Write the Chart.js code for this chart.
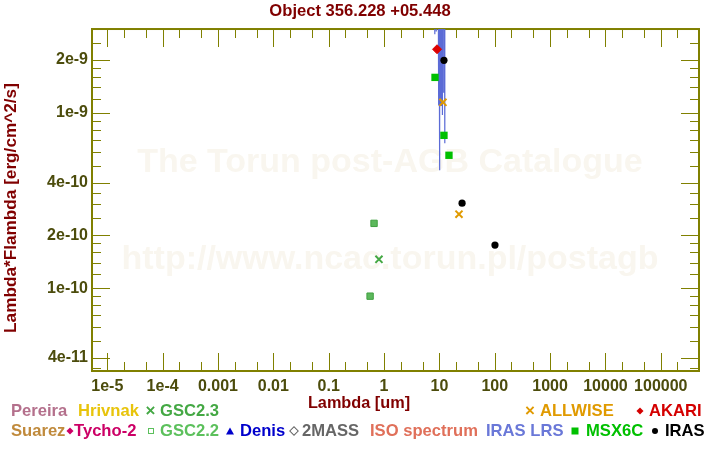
<!DOCTYPE html>
<html lang="en">
  <head>
    <meta charset="UTF-8" />
    <title>Object 356.228 +05.448</title>
    <style>
      body {
        margin: 0;
        background: #fff;
        font-family: "Liberation Sans", Arial, sans-serif;
      }
      #wrap {
        position: relative;
        width: 720px;
        height: 450px;
      }
      .lg {
        position: absolute;
        font-weight: bold;
        font-size: 16.6px;
        line-height: 18px;
        white-space: nowrap;
      }
      .mk {
        position: absolute;
        transform: translate(-50%, -50%);
      }
    </style>
    <script src="https://cdn.jsdelivr.net/npm/chart.js"></script>
  </head>
  <body>
    <div id="wrap">
      <canvas id="sed"></canvas>
      <div id="legend"></div>
    </div>

    <script>
      // photometry: wavelength [um], lambda*F_lambda [erg/cm^2/s]
      const akariX = [9.07];
      const akariY = [2.3e-9];
      const irasX = [12.1, 25.7, 101];
      const irasY = [1.99e-9, 3.05e-10, 1.76e-10];
      const msxX = [8.34, 12.1, 14.9];
      const msxY = [1.59e-9, 7.43e-10, 5.72e-10];
      const allwiseX = [11.6, 22.6];
      const allwiseY = [1.146e-9, 2.64e-10];
      const gsc22X = [0.66, 0.56];
      const gsc22Y = [2.34e-10, 9.0e-11];
      const gsc23X = [0.81];
      const gsc23Y = [1.46e-10];

      // IRAS LRS spectrum, most of it runs above the top of the plot
      const lrsX = [8.2, 8.24, 8.3, 8.74, 8.77, 8.8, 9.55, 9.62, 9.7, 9.8, 9.9, 10.0,
        10.08, 10.15, 10.22, 10.32, 10.42, 10.52, 10.62, 10.72, 10.82, 10.92, 11.02,
        11.12, 11.22, 11.3, 11.36, 11.4, 11.96, 11.98, 12.0, 12.48, 12.5, 12.56];
      const lrsY = [4.5e-9, 2.8e-9, 4.5e-9, 4.5e-9, 2.9e-9, 4.5e-9, 5e-9, 1.15e-9, 5e-9,
        1.1e-9, 5e-9, 1.12e-9, 5e-9, 4.7e-10, 5e-9, 1.1e-9, 5e-9, 1.13e-9, 5e-9, 1.1e-9,
        5e-9, 1.12e-9, 5e-9, 1.1e-9, 5e-9, 1.38e-9, 9.7e-10, 5e-9, 5e-9, 2.43e-9,
        1.31e-9, 1.31e-9, 6.7e-10, 5e-9];

      // axis ticks
      const xMajor = [1e-5, 1e-4, 1e-3, 1e-2, 0.1, 1, 10, 100, 1000, 1e4, 1e5];
      const xLabels = ["1e-5", "1e-4", "0.001", "0.01", "0.1", "1", "10", "100",
        "1000", "10000", "100000"];
      const xMinor = [2e-5, 5e-5, 2e-4, 5e-4, 0.002, 0.005, 0.02, 0.05, 0.2, 0.5,
        2, 5, 20, 50, 200, 500, 2000, 5000, 20000, 50000, 200000];
      const yMajor = [4e-11, 1e-10, 2e-10, 4e-10, 1e-9, 2e-9];
      const yLabels = ["4e-11", "1e-10", "2e-10", "4e-10", "1e-9", "2e-9"];
      const yMinor = [3.5e-11, 5e-11, 6e-11, 7e-11, 8e-11, 9e-11, 1.2e-10, 1.4e-10,
        1.6e-10, 1.8e-10, 2.5e-10, 3e-10, 3.5e-10, 5e-10, 6e-10, 7e-10, 8e-10, 9e-10,
        1.2e-9, 1.4e-9, 1.6e-9, 1.8e-9, 2.5e-9];

      const FONT = '"Liberation Sans", Arial, sans-serif';
      Chart.defaults.font.family = FONT;

      const pts = (xs, ys) => xs.map((x, i) => ({ x: x, y: ys[i] }));
      const tickList = (a, b) => a.concat(b).sort((p, q) => p - q).map((v) => ({ value: v }));

      // watermark, frame with inward ticks, axis titles
      const framePlugin = {
        id: "frame",
        beforeDatasetsDraw(chart) {
          const { ctx, chartArea: a } = chart;
          const x = chart.scales.x;
          const y = chart.scales.y;
          ctx.save();
          ctx.fillStyle = "#f9f6ef";
          ctx.font = "bold 34px " + FONT;
          ctx.textAlign = "center";
          ctx.textBaseline = "middle";
          ctx.fillText("The Torun post-AGB Catalogue", 390, 163);
          ctx.fillText("http://www.ncac.torun.pl/postagb", 390, 260);

          ctx.strokeStyle = "#808000";
          ctx.lineWidth = 1;
          ctx.beginPath();
          xMajor.concat(xMinor).forEach((v) => {
            const px = Math.round(x.getPixelForValue(v)) + 0.5;
            if (px < a.left || px > a.right) return;
            const len = xMajor.includes(v) ? 18 : 9;
            ctx.moveTo(px, a.bottom);
            ctx.lineTo(px, a.bottom - len);
            ctx.moveTo(px, a.top);
            ctx.lineTo(px, a.top + len);
          });
          yMajor.concat(yMinor).forEach((v) => {
            const py = Math.round(y.getPixelForValue(v)) + 0.5;
            if (py < a.top || py > a.bottom) return;
            const len = yMajor.includes(v) ? 18 : 9;
            ctx.moveTo(a.left, py);
            ctx.lineTo(a.left + len, py);
            ctx.moveTo(a.right, py);
            ctx.lineTo(a.right - len, py);
          });
          ctx.stroke();
          ctx.lineWidth = 2;
          ctx.strokeRect(a.left, a.top, a.right - a.left, a.bottom - a.top);
          ctx.restore();
        },
        afterDraw(chart) {
          const ctx = chart.ctx;
          ctx.save();
          ctx.fillStyle = "#800000";
          ctx.textAlign = "center";
          ctx.textBaseline = "middle";
          ctx.font = "bold 16.3px " + FONT;
          ctx.fillText("Lambda [um]", 359, 404);
          ctx.font = "bold 17.2px " + FONT;
          ctx.translate(11, 208);
          ctx.rotate(-Math.PI / 2);
          ctx.fillText("Lambda*Flambda [erg/cm^2/s]", 0, 0);
          ctx.restore();
        },
      };

      new Chart(document.getElementById("sed"), {
        type: "scatter",
        data: {
          datasets: [
            {
              label: "AKARI",
              data: pts(akariX, akariY),
              pointStyle: "rectRot",
              pointRadius: 4.5,
              backgroundColor: "#dd0000",
              borderColor: "#dd0000",
              pointBorderWidth: 1,
            },
            {
              label: "IRAS",
              data: pts(irasX, irasY),
              pointStyle: "circle",
              pointRadius: 3.6,
              backgroundColor: "#000000",
              borderColor: "#000000",
              pointBorderWidth: 0,
            },
            {
              label: "ALLWISE",
              data: pts(allwiseX, allwiseY),
              pointStyle: "crossRot",
              pointRadius: 5,
              borderColor: "#e09a00",
              pointBorderWidth: 2,
            },
            {
              label: "MSX6C",
              data: pts(msxX, msxY),
              pointStyle: "rect",
              pointRadius: 5.2,
              backgroundColor: "#00c000",
              borderColor: "#00c000",
              pointBorderWidth: 0,
            },
            {
              label: "GSC2.3",
              data: pts(gsc23X, gsc23Y),
              pointStyle: "crossRot",
              pointRadius: 5,
              borderColor: "#44a844",
              pointBorderWidth: 2,
            },
            {
              label: "GSC2.2",
              data: pts(gsc22X, gsc22Y),
              pointStyle: "rect",
              pointRadius: 4.5,
              backgroundColor: "#5cb85c",
              borderColor: "#40a040",
              pointBorderWidth: 1,
            },
            {
              label: "IRAS LRS",
              type: "line",
              data: pts(lrsX, lrsY),
              borderColor: "#5b6bd6",
              borderWidth: 1.2,
              pointRadius: 0,
              tension: 0,
            },
          ],
        },
        options: {
          responsive: true,
          maintainAspectRatio: false,
          animation: false,
          events: [],
          layout: { padding: { left: 0, right: 0, top: 0, bottom: 36 } },
          plugins: {
            legend: { display: false },
            tooltip: { enabled: false },
            title: {
              display: true,
              text: "Object 356.228 +05.448",
              color: "#800000",
              font: { size: 16.6, weight: "bold" },
              padding: { top: 1, bottom: 8.1 },
            },
          },
          scales: {
            x: {
              type: "logarithmic",
              min: 5.3e-6,
              max: 4.9e5,
              grid: { display: false, drawTicks: false },
              border: { display: false },
              afterBuildTicks: (s) => { s.ticks = tickList(xMajor, xMinor); },
              afterFit: (s) => { s.height = 43; },
              ticks: {
                autoSkip: false,
                maxRotation: 0,
                padding: 6,
                color: "#4c4c0c",
                font: { size: 16, weight: "bold" },
                callback: (v) => {
                  const i = xMajor.indexOf(v);
                  return i < 0 ? "" : xLabels[i];
                },
              },
            },
            y: {
              type: "logarithmic",
              min: 3.37e-11,
              max: 3.0e-9,
              grid: { display: false, drawTicks: false },
              border: { display: false },
              afterBuildTicks: (s) => { s.ticks = tickList(yMajor, yMinor); },
              afterFit: (s) => { s.width = 92; },
              ticks: {
                autoSkip: false,
                padding: 4,
                color: "#4c4c0c",
                font: { size: 16, weight: "bold" },
                callback: (v) => {
                  const i = yMajor.indexOf(v);
                  return i < 0 ? "" : yLabels[i];
                },
              },
            },
            pad: {
              axis: "y",
              type: "linear",
              position: "right",
              grid: { display: false, drawTicks: false },
              border: { display: false },
              ticks: { display: false },
              afterFit: (s) => { s.width = 21; },
            },
          },
        },
        plugins: [framePlugin],
      });

      // catalogue legend below the plot
      const legendItems = [
        ["Pereira", "#b4708c", 11, 0],
        ["Hrivnak", "#e8c40c", 78, 0],
        ["GSC2.3", "#44a844", 160, 0, "cross", 150.5],
        ["ALLWISE", "#e09a00", 540, 0, "cross", 530],
        ["AKARI", "#d40000", 649, 0, "diamond", 640],
        ["Suarez", "#c08a3c", 11, 1],
        ["Tycho-2", "#cc0066", 74, 1, "diamond", 70],
        ["GSC2.2", "#5cc05c", 160, 1, "square", 150.5],
        ["Denis", "#0000cc", 240, 1, "triangle", 230],
        ["2MASS", "#666666", 302, 1, "odiamond", 294],
        ["ISO spectrum", "#e0705a", 370, 1],
        ["IRAS LRS", "#6a78d8", 486, 1],
        ["MSX6C", "#00c000", 586, 1, "fsquare", 575],
        ["IRAS", "#000000", 665, 1, "circle", 655],
      ];
      const rowY = [410.8, 430.5];
      const legend = document.getElementById("legend");
      legendItems.forEach(([text, color, left, row, marker, mx]) => {
        const t = document.createElement("span");
        t.className = "lg";
        t.textContent = text;
        t.style.color = color;
        t.style.left = left + "px";
        t.style.top = rowY[row] - 8.8 + "px";
        legend.appendChild(t);
        if (!marker) return;
        const m = document.createElement("span");
        m.className = "mk";
        m.style.left = mx + "px";
        m.style.top = rowY[row] + "px";
        if (marker === "cross") {
          m.textContent = "\u00d7";
          m.style.color = color;
          m.style.font = "bold 17px " + FONT;
          m.style.lineHeight = "16px";
        } else if (marker === "diamond" || marker === "odiamond") {
          m.style.width = "5px";
          m.style.height = "5px";
          m.style.transform = "translate(-50%, -50%) rotate(45deg)";
          if (marker === "diamond") m.style.background = color;
          else m.style.border = "1px solid " + color;
        } else if (marker === "square") {
          m.style.width = "4px";
          m.style.height = "4px";
          m.style.border = "1.5px solid " + color;
        } else if (marker === "fsquare") {
          m.style.width = "7px";
          m.style.height = "7px";
          m.style.background = color;
        } else if (marker === "circle") {
          m.style.width = "6px";
          m.style.height = "6px";
          m.style.borderRadius = "50%";
          m.style.background = color;
        } else if (marker === "triangle") {
          m.style.width = "0";
          m.style.height = "0";
          m.style.borderLeft = "4px solid transparent";
          m.style.borderRight = "4px solid transparent";
          m.style.borderBottom = "7px solid " + color;
        }
        legend.appendChild(m);
      });
    </script>
  </body>
</html>
